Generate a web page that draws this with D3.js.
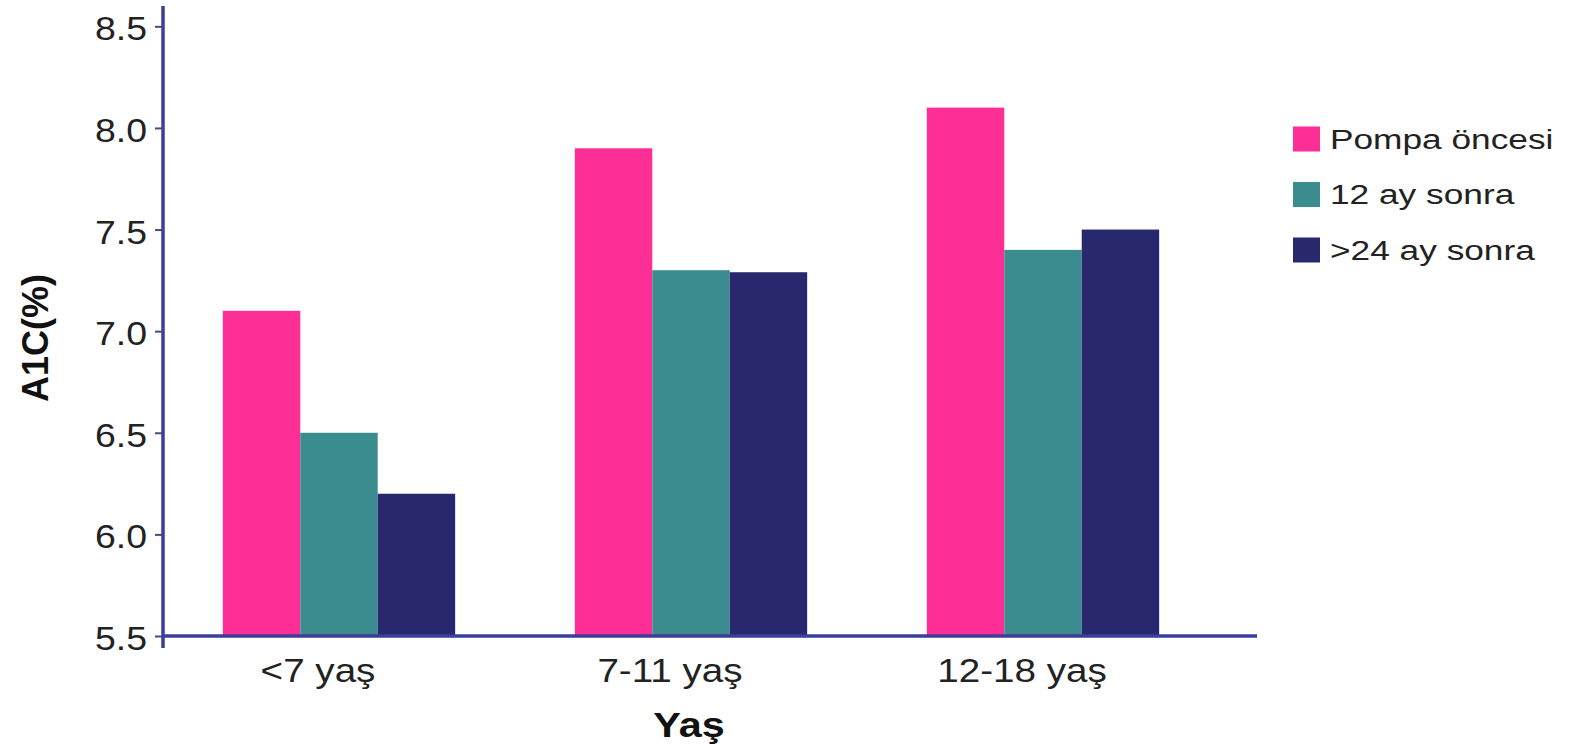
<!DOCTYPE html>
<html>
<head>
<meta charset="utf-8">
<script src="https://cdn.jsdelivr.net/npm/d3@7/dist/d3.min.js"></script>
<style>
  html, body { margin: 0; padding: 0; background: #ffffff; }
  svg { display: block; font-family: "Liberation Sans", Arial, Helvetica, sans-serif; }
</style>
</head>
<body>
<svg id="chart" width="1573" height="749"></svg>
<script>
// A1C (%) by age group, before pump therapy and at follow-up
const categories = ["<7 yaş", "7-11 yaş", "12-18 yaş"];
const seriesNames = ["Pompa öncesi", "12 ay sonra", ">24 ay sonra"];
const pompaOncesi = [7.1, 7.9, 8.1];
const ay12Sonra = [6.5, 7.3, 7.4];
const ay24Sonra = [6.2, 7.29, 7.5];
const yTicks = [5.5, 6.0, 6.5, 7.0, 7.5, 8.0, 8.5];
const yTitle = "A1C(%)";
const xTitle = "Yaş";

const colors = ["#fd2f97", "#3b8c8f", "#28286f"];
const axisColor = "#3d3d9c";

const seriesValues = [pompaOncesi, ay12Sonra, ay24Sonra];
const rows = categories.map((c, i) => ({
  cat: c,
  values: seriesNames.map((s, j) => ({ key: s, idx: j, value: seriesValues[j][i] }))
}));

const svg = d3.select("#chart");
const x0Left = 163, xAxisEnd = 1257, yBase = 636;

const y = d3.scaleLinear().domain([5.5, 8.6]).range([yBase, 6]);
const x0 = d3.scaleBand().domain(categories).range([x0Left, 1219])
  .paddingInner(0.34).paddingOuter(0.17);
const x1 = d3.scaleBand().domain(seriesNames).range([0, x0.bandwidth()]).padding(0);

// bars
const groups = svg.append("g").selectAll("g").data(rows).join("g")
  .attr("transform", d => `translate(${x0(d.cat)},0)`);
groups.selectAll("rect").data(d => d.values).join("rect")
  .attr("x", d => x1(d.key))
  .attr("width", x1.bandwidth())
  .attr("y", d => y(d.value))
  .attr("height", d => yBase - y(d.value))
  .attr("fill", d => colors[d.idx]);

// y axis
const yAxis = svg.append("g").attr("transform", `translate(${x0Left},0)`)
  .call(d3.axisLeft(y).tickValues(yTicks).tickFormat(d3.format(".1f")).tickSize(8).tickPadding(0));
yAxis.select(".domain").remove();
yAxis.selectAll(".tick line").attr("stroke", "#4a4a80").attr("stroke-width", 2);
yAxis.selectAll(".tick text")
  .attr("x", -14.5).attr("dy", "0.4em")
  .attr("transform", "scale(1.1,1)")
  .attr("fill", "#222").style("font-size", "34px");

// x axis labels
const xAxis = svg.append("g").attr("transform", `translate(0,${yBase})`)
  .call(d3.axisBottom(x0).tickSize(0));
xAxis.select(".domain").remove();
xAxis.selectAll(".tick text")
  .attr("y", 46).attr("dy", 0)
  .attr("transform", "translate(-21,0) scale(1.17,1)")
  .attr("fill", "#222").style("font-size", "33px");

// axis lines
svg.append("line").attr("x1", x0Left).attr("x2", x0Left).attr("y1", 6).attr("y2", 648)
  .attr("stroke", axisColor).attr("stroke-width", 3.5);
svg.append("line").attr("x1", x0Left).attr("x2", xAxisEnd).attr("y1", yBase).attr("y2", yBase)
  .attr("stroke", axisColor).attr("stroke-width", 3.5);

// axis titles
svg.append("text").attr("transform", "translate(48,338) rotate(-90)")
  .attr("text-anchor", "middle").attr("font-weight", "bold").style("font-size", "36px")
  .attr("fill", "#111").text(yTitle);
svg.append("text").attr("transform", "translate(689,737) scale(1.15,1)")
  .attr("text-anchor", "middle").attr("font-weight", "bold").style("font-size", "36px")
  .attr("fill", "#111").text(xTitle);

// legend
const legend = svg.append("g").attr("transform", "translate(1293,139)");
const li = legend.selectAll("g").data(seriesNames).join("g")
  .attr("transform", (d, i) => `translate(0,${i * 55.5})`);
li.append("rect").attr("x", 0).attr("y", -12.5).attr("width", 27).attr("height", 25)
  .attr("fill", (d, i) => colors[i]);
li.append("text").attr("transform", "translate(37,0) scale(1.26,1)")
  .attr("dy", "0.34em").style("font-size", "28px").attr("fill", "#222").text(d => d);
</script>
</body>
</html>
